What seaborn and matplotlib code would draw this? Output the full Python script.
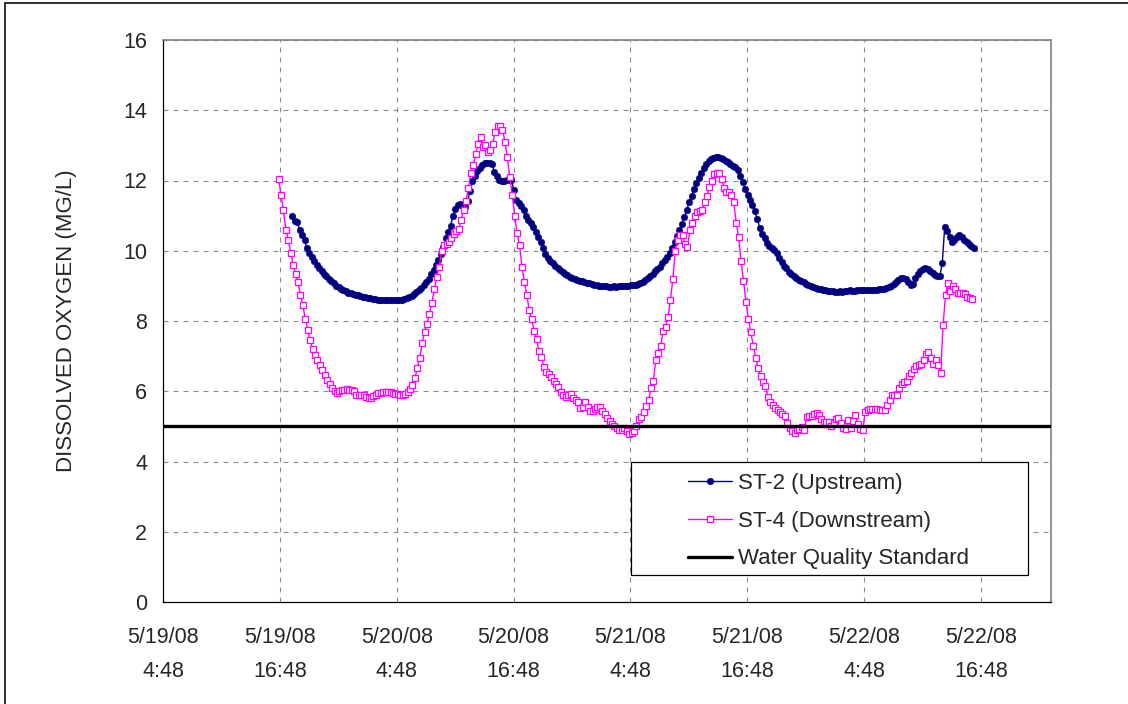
import numpy as np
import pandas as pd
import matplotlib
matplotlib.use("Agg")
import matplotlib.pyplot as plt
import matplotlib.dates as mdates
from matplotlib.lines import Line2D
from matplotlib.patches import Rectangle
import seaborn as sns

# ---------------- data ----------------
st2_start = "2008-05-19 18:05"
st4_start = "2008-05-19 16:40"
sample_interval = "15min"

st2_do = [
    11.0, 10.85, 10.82, 10.6, 10.45, 10.3, 10.08, 9.95, 9.82, 9.7,
    9.59, 9.5, 9.41, 9.34, 9.27, 9.2, 9.13, 9.07, 9.01, 8.97,
    8.92, 8.88, 8.84, 8.81, 8.79, 8.77, 8.75, 8.73, 8.71, 8.69,
    8.67, 8.66, 8.65, 8.63, 8.62, 8.61, 8.6, 8.6, 8.6, 8.6,
    8.6, 8.59, 8.6, 8.6, 8.6, 8.61, 8.63, 8.65, 8.68, 8.72,
    8.77, 8.83, 8.88, 8.95, 9.03, 9.11, 9.2, 9.33, 9.46, 9.6,
    9.75, 9.9, 10.12, 10.35, 10.52, 10.7, 11.0, 11.18, 11.3, 11.33,
    11.28, 11.25, 11.42, 11.7, 11.98, 12.12, 12.27, 12.36, 12.44, 12.49,
    12.5, 12.5, 12.46, 12.25, 12.12, 12.02, 12.0, 11.98, 12.01, 12.03,
    12.02, 11.72, 11.45, 11.35, 11.26, 11.15, 11.0, 10.88, 10.78, 10.67,
    10.54, 10.4, 10.25, 10.07, 9.9, 9.8, 9.72, 9.65, 9.58, 9.52,
    9.46, 9.4, 9.35, 9.3, 9.26, 9.23, 9.2, 9.17, 9.15, 9.13,
    9.11, 9.09, 9.07, 9.05, 9.03, 9.02, 9.01, 9.0, 8.99, 8.99,
    8.98, 8.98, 8.99, 8.98, 8.99, 9.0, 9.0, 9.01, 9.0, 9.02,
    9.02, 9.03, 9.05, 9.08, 9.12, 9.17, 9.22, 9.27, 9.34, 9.41,
    9.47, 9.55, 9.65, 9.74, 9.83, 9.93, 10.08, 10.24, 10.42, 10.58,
    10.76, 10.95, 11.15, 11.38, 11.57, 11.76, 11.92, 12.07, 12.22, 12.36,
    12.46, 12.55, 12.6, 12.64, 12.67, 12.68, 12.64, 12.6, 12.56, 12.52,
    12.47, 12.42, 12.38, 12.3, 12.12, 11.95, 11.76, 11.58, 11.44, 11.3,
    11.12, 10.9, 10.66, 10.48, 10.35, 10.22, 10.13, 10.08, 10.03, 9.95,
    9.8, 9.68, 9.58, 9.5, 9.4, 9.33, 9.27, 9.22, 9.18, 9.15,
    9.1, 9.06, 9.02, 8.99, 8.96, 8.93, 8.91, 8.9, 8.88, 8.87,
    8.86, 8.85, 8.84, 8.83, 8.83, 8.84, 8.83, 8.85, 8.86, 8.87,
    8.85, 8.86, 8.87, 8.88, 8.87, 8.88, 8.88, 8.88, 8.89, 8.89,
    8.89, 8.9, 8.9, 8.91, 8.93, 8.96, 9.0, 9.05, 9.11, 9.18,
    9.23, 9.23, 9.19, 9.1, 9.03, 9.05, 9.22, 9.34, 9.41, 9.48,
    9.51, 9.48, 9.42, 9.36, 9.31, 9.29, 9.28, 9.64, 10.68, 10.55,
    10.4, 10.26, 10.3, 10.38, 10.44, 10.4, 10.32, 10.26, 10.2, 10.14,
    10.08,
]

st4_do = [
    12.05, 11.6, 11.15, 10.6, 10.3, 9.95, 9.6, 9.35, 9.1, 8.75,
    8.45, 8.05, 7.75, 7.45, 7.2, 7.02, 6.9, 6.75, 6.6, 6.45,
    6.32, 6.2, 6.08, 6.02, 5.95, 6.02, 6.04, 6.04, 6.05, 6.03,
    6.04, 6.0, 5.9, 5.9, 5.88, 5.88, 5.85, 5.82, 5.8, 5.86,
    5.9, 5.94, 5.96, 5.98, 5.99, 5.97, 5.97, 5.95, 5.93, 5.92,
    5.9, 5.88, 5.93, 5.99, 6.06, 6.18, 6.37, 6.65, 6.95, 7.36,
    7.7, 7.92, 8.2, 8.52, 8.9, 9.25, 9.55, 10.0, 10.17, 10.2,
    10.24, 10.35, 10.47, 10.56, 10.61, 10.88, 11.15, 11.42, 11.78, 12.2,
    12.45, 12.75, 13.05, 13.25, 12.96, 13.01, 12.82, 12.87, 13.05, 13.39,
    13.55, 13.56, 13.45, 13.1, 12.66, 12.1, 11.6, 11.0, 10.5, 10.15,
    9.55, 9.1, 8.75, 8.3, 8.05, 7.72, 7.48, 7.15, 6.98, 6.7,
    6.55, 6.48, 6.4, 6.28, 6.2, 6.12, 5.97, 5.88, 5.85, 5.88,
    5.92, 5.8, 5.75, 5.68, 5.52, 5.55, 5.7, 5.55, 5.45, 5.45,
    5.5, 5.55, 5.56, 5.45, 5.35, 5.24, 5.15, 5.08, 5.0, 4.95,
    4.9, 4.91, 4.94, 4.88, 4.77, 4.8, 4.88, 5.02, 5.2, 5.27,
    5.4, 5.58, 5.74, 6.08, 6.3, 6.9, 7.1, 7.3, 7.72, 7.82,
    8.1, 8.6, 9.2, 10.0, 10.3, 10.45, 10.45, 10.2, 10.1, 10.59,
    10.78, 10.98, 11.1, 11.12, 11.16, 11.38, 11.55, 11.82, 12.0, 12.18,
    12.22, 12.2, 12.05, 11.8, 11.68, 11.68, 11.6, 11.4, 10.8, 10.4,
    9.7, 9.15, 8.55, 8.05, 7.68, 7.3, 6.95, 6.65, 6.42, 6.26,
    6.15, 5.85, 5.7, 5.6, 5.51, 5.46, 5.42, 5.36, 5.3, 5.1,
    4.96, 4.88, 4.82, 4.9, 4.93, 4.97, 4.9, 5.28, 5.29, 5.3,
    5.35, 5.37, 5.33, 5.22, 5.13, 5.12, 5.13, 5.0, 5.1, 5.2,
    5.23, 5.1, 4.95, 4.92, 5.18, 4.94, 5.15, 5.32, 5.06, 4.93,
    4.9, 5.42, 5.46, 5.49, 5.5, 5.49, 5.5, 5.48, 5.47, 5.47,
    5.6, 5.75, 5.89, 5.89, 5.9, 6.1, 6.2, 6.26, 6.3, 6.42,
    6.52, 6.62, 6.73, 6.76, 6.78, 6.9, 7.06, 7.12, 6.95, 6.78,
    6.88, 6.75, 6.53, 7.89, 8.74, 9.09, 8.86, 9.0, 8.92, 8.79,
    8.8, 8.81, 8.77, 8.68, 8.65, 8.63,
]

standard_do = 5.0

tick_start = "2008-05-19 04:48"
n_xticks = 8
xtick_step = "12h"
x_end = "2008-05-23 00:00"
y_ticks = [0, 2, 4, 6, 8, 10, 12, 14, 16]

series_labels = ["ST-2 (Upstream)", "ST-4 (Downstream)", "Water Quality Standard"]
y_label = "DISSOLVED OXYGEN (MG/L)"

# ---------------- style ----------------
sns.set_style("white")
plt.rcParams["font.family"] = ["Liberation Sans", "DejaVu Sans"]
plt.rcParams["lines.scale_dashes"] = False

W, H = 1128, 704
fig = plt.figure(figsize=(W / 100, H / 100), dpi=100)
fig.patch.set_facecolor("white")
ax = fig.add_axes([163 / W, (H - 602) / H, (1051 - 163) / W, (602 - 40) / H])
ax.set_facecolor("white")

df2 = pd.DataFrame({
    "time": pd.date_range(st2_start, periods=len(st2_do), freq=sample_interval),
    "do": st2_do,
})
df4 = pd.DataFrame({
    "time": pd.date_range(st4_start, periods=len(st4_do), freq=sample_interval),
    "do": st4_do,
})

sns.lineplot(data=df2, x="time", y="do", ax=ax, color="#000080", linewidth=1.0,
             marker="o", markersize=4.8, markerfacecolor="#000080",
             markeredgecolor="#000080", markeredgewidth=0.3,
             label=series_labels[0], zorder=3)
sns.lineplot(data=df4, x="time", y="do", ax=ax, color="#FF00FF", linewidth=1.0,
             marker="s", markersize=4.9, markerfacecolor="white",
             markeredgecolor="#FF00FF", markeredgewidth=0.9,
             label=series_labels[1], zorder=4)
ax.axhline(standard_do, color="black", linewidth=2.4, label=series_labels[2], zorder=5)

# axes limits / ticks
xticks = pd.date_range(tick_start, periods=n_xticks, freq=xtick_step)
ax.set_xlim(mdates.date2num(pd.Timestamp(tick_start)), mdates.date2num(pd.Timestamp(x_end)))
ax.set_ylim(y_ticks[0], y_ticks[-1])
ax.set_xticks(mdates.date2num(xticks))
ax.set_xticklabels([f"{t.month}/{t.day}/{t:%y}\n{t.hour}:{t:%M}" for t in xticks],
                   fontsize=15.5, linespacing=1.8)
ax.set_yticks(y_ticks)
ax.set_yticklabels([str(v) for v in y_ticks], fontsize=15.5)
ax.tick_params(axis="x", direction="out", length=5, width=0.8, color="black", pad=13)
ax.tick_params(axis="y", direction="inout", length=8.5, width=0.8, color="black", pad=7)
ax.set_xlabel("")
ax.set_ylabel(y_label, fontsize=16, va="center")
ax.yaxis.set_label_coords((67 - 163) / (1051 - 163), 0.5)

ax.grid(True, color="#8c8c8c", linestyle=(0, (3.6, 3.6)), linewidth=0.8)
ax.set_axisbelow(True)
for side in ["left", "bottom"]:
    ax.spines[side].set_color("black")
    ax.spines[side].set_linewidth(0.9)
for side in ["top", "right"]:
    ax.spines[side].set_color("#808080")
    ax.spines[side].set_linewidth(1.2)

# legend
handles, labels = ax.get_legend_handles_labels()
ax.add_patch(Rectangle((631 / W, 1 - 575 / H), (1028 - 631) / W, (575 - 462) / H,
                       transform=fig.transFigure, facecolor="white", edgecolor="black",
                       linewidth=0.9, zorder=6, clip_on=False))
leg = ax.legend(handles, labels, loc="upper left",
                bbox_to_anchor=(688 / W, 1 - 473 / H), bbox_transform=fig.transFigure,
                frameon=False, borderpad=0, borderaxespad=0, handlelength=2.0,
                handletextpad=0.25, labelspacing=0.75, fontsize=16)
leg.set_zorder(7)

# figure border (partially visible in the reference)
fig.add_artist(Line2D([5 / W, 5 / W], [0, 1 - 2.5 / H], transform=fig.transFigure,
                      color="#222222", linewidth=1.3))
fig.add_artist(Line2D([5 / W, 1], [1 - 2.5 / H, 1 - 2.5 / H], transform=fig.transFigure,
                      color="#222222", linewidth=1.3))

fig.savefig("out.png", dpi=100, facecolor="white")
